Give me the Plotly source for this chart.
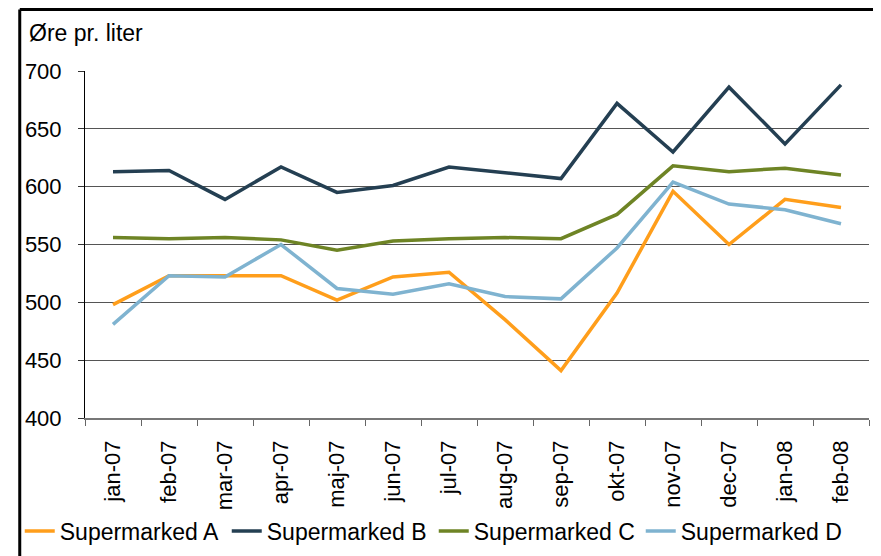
import plotly.graph_objects as go

months = ["jan-07", "feb-07", "mar-07", "apr-07", "maj-07", "jun-07", "jul-07",
          "aug-07", "sep-07", "okt-07", "nov-07", "dec-07", "jan-08", "feb-08"]
series_a = [498, 523, 523, 523, 502, 522, 526, 485, 441, 508, 596, 550, 589, 582]
series_b = [613, 614, 589, 617, 595, 601, 617, 612, 607, 672, 630, 686, 637, 688]
series_c = [556, 555, 556, 554, 545, 553, 555, 556, 555, 576, 618, 613, 616, 610]
series_d = [481, 523, 522, 550, 512, 507, 516, 505, 503, 547, 604, 585, 580, 568]
names = ["Supermarked A", "Supermarked B", "Supermarked C", "Supermarked D"]
colors = ["#FF9E1B", "#243F52", "#6E8425", "#7FB3D0"]
y_ticks = [400, 450, 500, 550, 600, 650, 700]

W, H = 881, 556
OFF = 8  # page body margin offset
L, R, T, B = 76 - OFF, 20, 71 - OFF, 143
pw, ph = W - L - R, H - T - B

def px(x):
    return (x - OFF - L) / pw

def py(y):
    return (H - B - (y - OFF)) / ph

fig = go.Figure()
for name, vals, col in zip(names, [series_a, series_b, series_c, series_d], colors):
    fig.add_trace(go.Scatter(x=months, y=vals, name=name, mode="lines",
                             line=dict(color=col, width=3.5)))

font = "Liberation Sans, Arial, sans-serif"
fig.update_layout(
    width=W, height=H,
    margin=dict(l=L, r=R, t=T, b=B),
    paper_bgcolor="white", plot_bgcolor="white",
    font=dict(family=font, color="black"),
    showlegend=True,
    legend=dict(orientation="h", x=px(10), xanchor="left", y=py(535), yanchor="middle",
                font=dict(size=23, family=font), itemwidth=30,
                entrywidth=162, entrywidthmode="pixels",
                bgcolor="rgba(0,0,0,0)", traceorder="normal"),
    xaxis=dict(type="category", tickson="boundaries", ticks="outside", ticklen=6,
               tickcolor="#666", showline=True, linecolor="#777", linewidth=1.5,
               showgrid=False, tickangle=-90, tickfont=dict(size=22, family=font),
               ticklabelstandoff=12,
               range=[-0.5, len(months) - 0.5]),
    yaxis=dict(range=[400, 700], tickvals=y_ticks, ticks="outside", ticklen=6,
               tickcolor="#333", showline=True, linecolor="black", linewidth=1,
               showgrid=True, gridcolor="#555", gridwidth=1,
               ticklabelstandoff=12,
               tickfont=dict(size=22, family=font), zeroline=False),
)

fig.add_annotation(text="Øre pr. liter", xref="paper", yref="paper",
                   x=px(17), y=py(33), xanchor="left", yanchor="middle",
                   showarrow=False, font=dict(size=23, family=font, color="black"))

# frame lines
fig.add_shape(type="line", xref="paper", yref="paper",
              x0=px(10), x1=px(10), y0=py(570), y1=py(9),
              line=dict(color="black", width=3))
fig.add_shape(type="line", xref="paper", yref="paper",
              x0=px(10), x1=px(895), y0=py(9), y1=py(9),
              line=dict(color="black", width=3))

fig.write_html("out.html")
